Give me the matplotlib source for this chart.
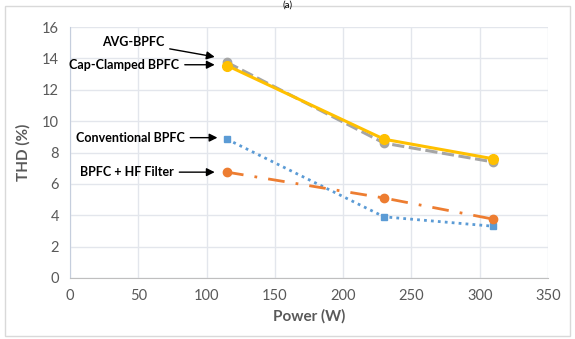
import matplotlib.pyplot as plt

power = [115, 230, 310]
thd_avg = [13.75, 8.6, 7.4]
thd_cap = [13.55, 8.85, 7.6]
thd_conv = [8.85, 3.9, 3.3]
thd_hf = [6.75, 5.1, 3.75]

x_ticks = [0, 50, 100, 150, 200, 250, 300, 350]
y_ticks = [0, 2, 4, 6, 8, 10, 12, 14, 16]


def main():
    width = 575
    height = 339
    ppi = 100
    plt.rcParams['font.family'] = ['Lato', 'DejaVu Sans']
    fig = plt.figure(figsize=(width / ppi, height / ppi), dpi=ppi)
    ax = fig.add_axes([0.1217, 0.180, 0.8313, 0.740])

    # colours
    grey = '#A5A5A5'
    yellow = '#FFC000'
    blue = '#5B9BD5'
    orange = '#ED7D31'
    text_grey = '#595959'

    ax.plot(power, thd_avg, color=grey, linestyle=(0, (4, 1.5)), linewidth=2.2,
            marker='o', markersize=6, zorder=3)
    ax.plot(power, thd_cap, color=yellow, linestyle='-', linewidth=2.2,
            marker='o', markersize=7, zorder=4)
    ax.plot(power, thd_conv, color=blue, linestyle=(0, (1, 1.5)), linewidth=2,
            marker='s', markersize=5, zorder=3)
    ax.plot(power, thd_hf, color=orange, linestyle=(0, (6, 4, 1, 4)), linewidth=2,
            marker='o', markersize=6, zorder=3)

    ax.set_xlim(0, 350)
    ax.set_ylim(0, 16)
    ax.set_xticks(x_ticks)
    ax.set_yticks(y_ticks)
    ax.grid(True, color='#E3E6EC', linewidth=1)
    ax.set_axisbelow(True)
    for side in ['top', 'right']:
        ax.spines[side].set_visible(False)
    ax.spines['left'].set_color('#C5CEDD')
    ax.spines['bottom'].set_color('#BFBFBF')
    ax.tick_params(length=0, labelsize=10.5, colors=text_grey, pad=8)

    ax.set_xlabel('Power (W)', fontsize=11, fontweight='bold', color=text_grey, labelpad=4)
    ax.set_ylabel('THD (%)', fontsize=11, fontweight='bold', color=text_grey, labelpad=8)

    # annotations
    arrow = dict(arrowstyle='-|>', color='black', lw=1, mutation_scale=12)
    ax.annotate('AVG-BPFC', xy=(108, 14.07), xytext=(69, 15.03),
                fontsize=9, fontweight='bold', ha='right', va='center', arrowprops=arrow)
    ax.annotate('Cap-Clamped BPFC', xy=(108, 13.6), xytext=(80, 13.6),
                fontsize=9, fontweight='bold', ha='right', va='center', arrowprops=arrow)
    ax.annotate('Conventional BPFC', xy=(110, 8.95), xytext=(84, 8.95),
                fontsize=9, fontweight='bold', ha='right', va='center', arrowprops=arrow)
    ax.annotate('BPFC + HF Filter', xy=(108, 6.75), xytext=(76, 6.75),
                fontsize=9, fontweight='bold', ha='right', va='center', arrowprops=arrow)

    # chart border and caption
    fig.patches.append(plt.Rectangle((0.008, 0.008), 0.984, 0.975, transform=fig.transFigure,
                                     fill=False, edgecolor='#D9D9D9', linewidth=1))
    fig.text(0.5, 0.999, '(a)', ha='center', va='top', fontsize=7, color='black')

    fig.savefig('out.png', dpi=ppi)


if __name__ == '__main__':
    main()
